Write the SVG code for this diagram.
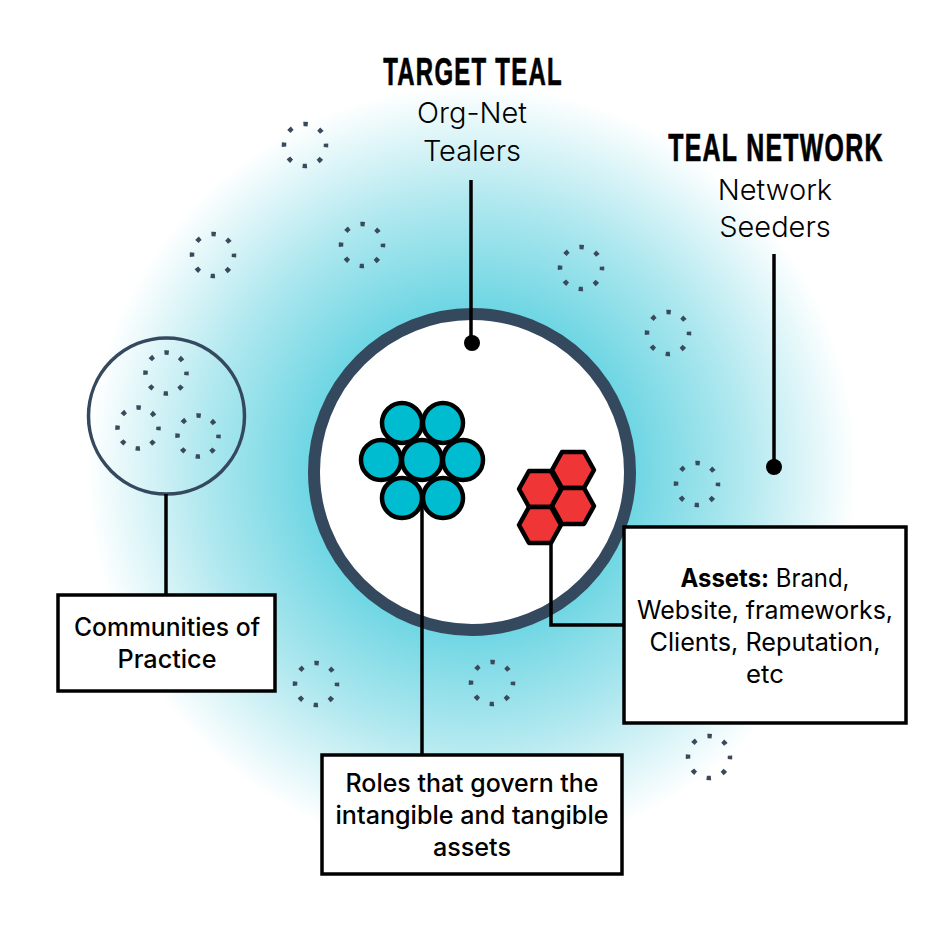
<svg xmlns="http://www.w3.org/2000/svg" width="944" height="944" viewBox="0 0 944 944">
<style>
.dots{fill:none;stroke:#3a4a5c;stroke-width:4.5;stroke-dasharray:4.5 11.99;stroke-dashoffset:2.25}
.dots2{fill:none;stroke:#3a4a5c;stroke-width:4.5;stroke-dasharray:4.5 11.6;stroke-dashoffset:2.25}
.box{fill:#fff;stroke:#000;stroke-width:3.5}
.cell{fill:#00bcd0;stroke:#000;stroke-width:4.5}
.hex{fill:#ef3535;stroke:#000;stroke-width:4.5;stroke-linejoin:round}
.line{fill:none;stroke:#000;stroke-width:3.5}
.t{font-family:"Inter","Liberation Sans",sans-serif;font-size:29px;text-anchor:middle;fill:#000;font-weight:300}
.h{font-family:"Liberation Sans","Arial",sans-serif;font-weight:700;font-size:38px;text-anchor:middle;fill:#000;stroke:#000;stroke-width:.7;letter-spacing:2px}
.b{font-family:"Inter","Liberation Sans",sans-serif;font-size:25px;text-anchor:middle;fill:#000;font-weight:500}
</style>
<defs>
<radialGradient id="glow" gradientUnits="userSpaceOnUse" cx="472" cy="470" r="385">
<stop offset="0" stop-color="#3fcbdc"/>
<stop offset="0.42" stop-color="#6ed6e3"/>
<stop offset="0.7" stop-color="#b0e8ef"/>
<stop offset="1" stop-color="#fff"/>
</radialGradient>
</defs>
<rect width="944" height="944" fill="#fff"/>
<circle cx="472" cy="470" r="385" fill="url(#glow)"/>
<g id="scatter">
<circle class="dots" cx="305" cy="145" r="21"/>
<circle class="dots" cx="213" cy="255" r="21"/>
<circle class="dots" cx="362" cy="245" r="21"/>
<circle class="dots" cx="581" cy="268" r="21"/>
<circle class="dots" cx="668" cy="333" r="21"/>
<circle class="dots" cx="697" cy="484" r="21"/>
<circle class="dots" cx="316" cy="684" r="21"/>
<circle class="dots" cx="492" cy="683" r="21"/>
<circle class="dots" cx="709" cy="757" r="21"/>
</g>
<g id="target-circle"><circle cx="472" cy="472" r="158" fill="#fff" stroke="#34495e" stroke-width="12"/></g>
<g id="communities-circle">
<circle cx="166.500" cy="416" r="78" fill="none" stroke="#34495e" stroke-width="3.5"/>
<circle class="dots2" cx="166" cy="373" r="20.5"/>
<circle class="dots2" cx="138" cy="428" r="20.5"/>
<circle class="dots2" cx="198" cy="436" r="20.5"/>
</g>
<g id="connectors">
<path class="line" d="M471 180V343"/><circle cx="472" cy="343" r="8"/>
<path class="line" d="M774 254V467"/><circle cx="774" cy="467" r="8"/>
<path class="line" d="M166 494V595"/>
<path class="line" d="M422 500V755"/>
<path class="line" d="M551 530V625H624"/>
</g>
<g id="roles-cluster">
<circle class="cell" cx="402" cy="423" r="20"/><circle class="cell" cx="443" cy="423" r="20"/>
<circle class="cell" cx="381" cy="460" r="20"/><circle class="cell" cx="422" cy="460" r="20"/><circle class="cell" cx="463" cy="460" r="20"/>
<circle class="cell" cx="402" cy="498" r="20"/><circle class="cell" cx="443" cy="498" r="20"/>
</g>
<g id="assets-cluster">
<polygon class="hex" points="562,452 584,452 594,470 584,488 562,488 552,470"/>
<polygon class="hex" points="562,488 584,488 594,506 584,524 562,524 552,506"/>
<polygon class="hex" points="529,471 551,471 561,489 551,507 529,507 519,489"/>
<polygon class="hex" points="529,507 551,507 561,525 551,543 529,543 519,525"/>
</g>
<g id="target-teal">
<text class="h" transform="translate(473 85) scale(.63 1)">TARGET TEAL</text>
<text class="t" x="472" y="123">Org-Net</text>
<text class="t" x="472" y="161">Tealers</text>
</g>
<g id="teal-network">
<text class="h" transform="translate(776 161) scale(.655 1)">TEAL NETWORK</text>
<text class="t" x="775" y="200">Network</text>
<text class="t" x="775" y="237">Seeders</text>
</g>
<g id="communities-box">
<rect class="box" x="58" y="595" width="217" height="96"/>
<text class="b" x="167" y="636" textLength="186" lengthAdjust="spacingAndGlyphs">Communities of</text>
<text class="b" x="167" y="668" textLength="99" lengthAdjust="spacingAndGlyphs">Practice</text>
</g>
<g id="assets-box">
<rect class="box" x="624" y="527" width="282" height="196"/>
<text class="b" x="765" y="587" textLength="169" lengthAdjust="spacingAndGlyphs"><tspan font-weight="700">Assets:</tspan><tspan style="font-weight:400"> Brand,</tspan></text>
<text class="b" x="765" y="619" style="font-weight:400" textLength="256" lengthAdjust="spacingAndGlyphs">Website, frameworks,</text>
<text class="b" x="765" y="651" style="font-weight:400" textLength="231" lengthAdjust="spacingAndGlyphs">Clients, Reputation,</text>
<text class="b" x="765" y="683" style="font-weight:400" textLength="38" lengthAdjust="spacingAndGlyphs">etc</text>
</g>
<g id="roles-box">
<rect class="box" x="322" y="755" width="300" height="119"/>
<text class="b" x="472" y="792" textLength="253" lengthAdjust="spacingAndGlyphs">Roles that govern the</text>
<text class="b" x="472" y="824" textLength="273" lengthAdjust="spacingAndGlyphs">intangible and tangible</text>
<text class="b" x="472" y="856" textLength="78" lengthAdjust="spacingAndGlyphs">assets</text>
</g>
</svg>
